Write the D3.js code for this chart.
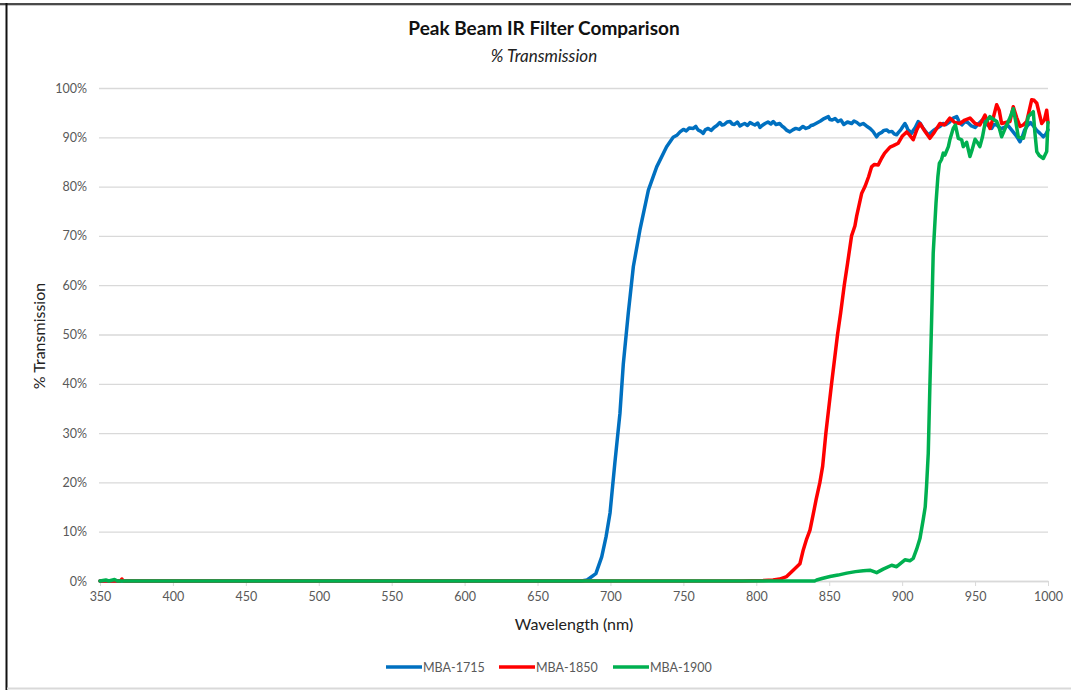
<!DOCTYPE html>
<html lang="en">
<head>
    <meta charset="UTF-8">
    <title>Peak Beam IR Filter Comparison</title>
    <script src="https://d3js.org/d3.v7.min.js"></script>
    <style>
        body {
            margin: 0;
            background: #fff;
            font-family: Lato, "Open Sans", Arial, sans-serif;
        }
        svg {
            display: block;
        }
    </style>
</head>
<body>
    <div id="container"></div>

    <script>
        // data: wavelength (nm) and transmission (%)
        const wl1715 = [350, 680, 684, 690, 694, 697, 699.7, 703, 706.5, 708.8, 712.2, 715.7, 720.2, 726, 731.7, 738.5, 743, 745.5, 747.7, 750, 752, 754, 756.8, 758.5, 760, 762, 763.6, 765, 767, 769, 771, 773, 775, 776.5, 778, 780, 782, 783.5, 785, 787, 788.8, 790.5, 792, 794, 795.7, 797.5, 799, 801, 802.5, 804, 806, 808, 810, 811.6, 813.5, 816, 817.5, 819, 821, 823, 825, 827, 829.5, 832, 834, 836, 837.5, 839, 841.5, 844, 846.5, 849.4, 850.5, 852, 854, 856, 858, 860, 862.5, 865.4, 867, 869, 871, 873.3, 875.5, 878, 880, 882.5, 884, 886, 887.5, 889.4, 891, 893, 894.5, 896.2, 897.5, 899, 900.5, 901.9, 903, 904, 905.2, 906.5, 907.8, 909, 910, 911, 912.5, 914, 916, 917.9, 920, 922, 924, 925.9, 928, 930, 932.5, 935, 937.4, 939, 941, 943, 945, 947.5, 950, 952.5, 955, 958, 961.4, 963, 965, 967.5, 970, 972.5, 975, 978, 980.8, 982.5, 984, 986, 988, 990, 992, 994.5, 996.8, 998.5, 1000];
        const t1715 = [0, 0, 0.2, 1.5, 4.9, 9, 13.8, 23.9, 34, 44, 54.3, 63.8, 71.2, 79.3, 84, 88.1, 90, 90.4, 91.1, 91.6, 91.3, 91.9, 91.8, 92.2, 91.5, 91.2, 90.8, 91.5, 91.8, 91.4, 92, 92.4, 93, 92.5, 92.6, 93.1, 93.2, 92.7, 92.6, 93.1, 92.3, 92.6, 92.8, 92.4, 93, 92.7, 92.5, 92.9, 92, 92.4, 92.8, 93.1, 92.7, 93.2, 92.6, 92.8, 92.3, 92, 91.4, 91.1, 91.5, 91.8, 91.6, 92.2, 91.8, 92, 92.4, 92.5, 92.9, 93.3, 93.8, 94.2, 93.6, 93.5, 93.8, 93.2, 93.5, 92.6, 93.1, 92.8, 93.3, 93, 92.5, 92.8, 92.3, 91.8, 91.2, 90.1, 90.7, 91, 91.4, 91.5, 91.1, 91.2, 90.7, 90.5, 91, 91.5, 92.2, 92.8, 92.2, 91.5, 91.2, 90.8, 91.5, 92, 92.6, 93.2, 92.8, 92, 91.2, 90.5, 91, 91.5, 91.9, 92.2, 92.8, 92.6, 93.1, 93.9, 94.2, 93.2, 92.5, 93.2, 93, 92.3, 92, 92.8, 93.5, 92.6, 91.8, 92.6, 92.5, 91.7, 92, 92.4, 91.5, 90.4, 89.1, 90.2, 91.5, 92.4, 93, 92.3, 91.5, 90.8, 90.1, 90.6, 91.5];

        const wl1850 = [350, 364, 365, 366, 790, 805, 811.5, 816, 820.8, 825.3, 829.9, 832.2, 834.5, 836.8, 839, 841, 843.6, 845.5, 847.7, 851.6, 855.7, 857.8, 860.3, 862.6, 865.3, 867.6, 868.8, 872.2, 874.5, 877, 879, 881, 883.6, 886, 888, 891.7, 894, 897.3, 900, 903.1, 905, 907.6, 910, 912.2, 915, 919, 922, 925.9, 929, 932.7, 936, 939.6, 943, 946.5, 950, 953.3, 956.8, 960.2, 962.5, 964.8, 966.5, 968.2, 971, 973.9, 976.2, 978.5, 980.8, 983, 985.4, 988.8, 990.5, 992.3, 995.7, 997.5, 999.1, 1000];
        const t1850 = [0, 0, 0.4, 0, 0, 0.1, 0.2, 0.4, 0.9, 2.2, 3.5, 6.3, 8.5, 10.3, 13.5, 16.5, 20, 23.3, 30, 40, 50, 54.3, 60, 64.5, 70, 72, 74, 78.6, 80, 82, 84, 84.5, 84.4, 85.8, 86.8, 88, 88.3, 88.8, 90.2, 91.1, 90.5, 89.5, 91.5, 92.8, 91.5, 89.8, 91, 92.8, 92.5, 93.9, 93, 92.8, 93.5, 93.9, 92.8, 92.5, 94.5, 91.8, 94, 96.6, 95.5, 92.8, 93, 93.2, 96.2, 94, 92.2, 92.5, 93.2, 97.6, 97.5, 96.9, 92.8, 93.5, 95.5, 93];

        const wl1900 = [350, 354, 356, 360, 362, 840, 841.4, 845, 850.5, 856, 862, 868, 873.3, 877.9, 882.5, 887, 892.8, 896.2, 901.9, 905.3, 907.6, 910, 912.2, 914.4, 915.8, 916.7, 917.9, 919, 920.2, 921.3, 923.2, 924.5, 925.5, 927, 928.2, 929.3, 931.7, 932.7, 935, 936.5, 938.5, 940.8, 941.9, 944.2, 946.5, 948, 950, 951.5, 953.3, 955, 956.8, 960.2, 962, 964.8, 966.5, 968.2, 971.6, 974, 976.2, 978, 979.6, 983.1, 985, 986.5, 989.9, 991, 992.3, 994, 996.8, 999.1, 1000];
        const t1900 = [0, 0.2, 0, 0.3, 0, 0, 0.2, 0.5, 0.9, 1.2, 1.6, 1.9, 2.1, 2.2, 1.7, 2.4, 3.2, 2.9, 4.3, 4.1, 4.6, 6.5, 8.6, 12.4, 15, 19.1, 25.9, 39.4, 52.9, 66.5, 76.6, 82, 84.7, 85.5, 86.8, 86.4, 88.1, 89.5, 91.8, 92.5, 89.8, 89.5, 88.1, 89, 86.1, 87.5, 89.6, 89, 88.1, 90, 92.8, 94.2, 93.8, 93.2, 92, 90.1, 92.5, 94, 95.8, 93, 90.1, 89.8, 92, 94.2, 95.2, 91, 87.1, 86.3, 85.7, 87.1, 93];

        const seriesNames = ['MBA-1715', 'MBA-1850', 'MBA-1900'];
        const seriesColors = ['#0070C0', '#FF0000', '#00B050'];
        const xTicks = [350, 400, 450, 500, 550, 600, 650, 700, 750, 800, 850, 900, 950, 1000];
        const yTicks = [0, 10, 20, 30, 40, 50, 60, 70, 80, 90, 100];

        const series = [
            {name: seriesNames[0], color: seriesColors[0], pts: wl1715.map((w, i) => [w, t1715[i]])},
            {name: seriesNames[1], color: seriesColors[1], pts: wl1850.map((w, i) => [w, t1850[i]])},
            {name: seriesNames[2], color: seriesColors[2], pts: wl1900.map((w, i) => [w, t1900[i]])}
        ];

        const W = 1071, H = 690;
        const svg = d3.select('#container').append('svg')
            .attr('width', W)
            .attr('height', H);

        // frame
        svg.append('line').attr('x1', 0).attr('x2', W).attr('y1', 5.3).attr('y2', 5.3)
            .attr('stroke', '#bbb').attr('stroke-width', 1);
        svg.append('line').attr('x1', 0).attr('x2', W).attr('y1', 4).attr('y2', 4)
            .attr('stroke', '#111').attr('stroke-width', 1.6);
        svg.append('line').attr('x1', 6.5).attr('x2', 6.5).attr('y1', 3).attr('y2', H)
            .attr('stroke', '#111').attr('stroke-width', 2);
        svg.append('line').attr('x1', 7).attr('x2', W).attr('y1', 688.5).attr('y2', 688.5)
            .attr('stroke', '#d9d9d9').attr('stroke-width', 2);

        const plotLeft = 100, plotRight = 1048, plotTop = 88, plotBottom = 581;

        const x = d3.scaleLinear().domain([350, 1000]).range([plotLeft, plotRight]);
        const y = d3.scaleLinear().domain([0, 100]).range([plotBottom, plotTop]);

        // gridlines + y labels
        const yAxis = d3.axisLeft(y)
            .tickValues(yTicks)
            .tickSize(-(plotRight - plotLeft + 1))
            .tickPadding(12)
            .tickFormat(d => d + '%');
        const gy = svg.append('g')
            .attr('transform', `translate(${plotLeft - 1},0)`)
            .call(yAxis);
        gy.select('.domain').remove();
        gy.selectAll('.tick line').attr('stroke', '#d9d9d9').attr('stroke-width', 1.3);
        gy.selectAll('.tick text')
            .attr('fill', '#595959')
            .style('font-size', '12.5px')
            .style('font-family', 'Lato, sans-serif');

        // x axis
        const xAxis = d3.axisBottom(x)
            .tickValues(xTicks)
            .tickSize(5)
            .tickPadding(6)
            .tickSizeOuter(0)
            .tickFormat(d3.format('d'));
        const gx = svg.append('g')
            .attr('transform', `translate(0,${plotBottom})`)
            .call(xAxis);
        gx.select('.domain').attr('stroke', '#d9d9d9').attr('stroke-width', 1.3);
        gx.selectAll('.tick line').attr('stroke', '#d9d9d9');
        gx.selectAll('.tick text')
            .attr('fill', '#595959')
            .style('font-size', '12.5px')
            .style('font-family', 'Lato, sans-serif');

        // lines (blue first, green ends on top)
        const line = d3.line()
            .x(d => x(d[0]))
            .y(d => y(d[1]));

        svg.selectAll('path.series')
            .data(series)
            .enter()
            .append('path')
            .attr('class', 'series')
            .attr('d', d => line(d.pts))
            .attr('fill', 'none')
            .attr('stroke', d => d.color)
            .attr('stroke-width', 3.5)
            .attr('stroke-linejoin', 'round')
            .attr('stroke-linecap', 'round');

        // titles
        svg.append('text')
            .attr('x', 544).attr('y', 35)
            .attr('text-anchor', 'middle')
            .style('font-size', '19px')
            .style('font-weight', 'bold')
            .attr('fill', '#111')
            .text('Peak Beam IR Filter Comparison');

        svg.append('text')
            .attr('x', 544).attr('y', 62)
            .attr('text-anchor', 'middle')
            .style('font-size', '17px')
            .style('font-style', 'italic')
            .attr('fill', '#222')
            .text('% Transmission');

        svg.append('text')
            .attr('x', (plotLeft + plotRight) / 2).attr('y', 630)
            .attr('text-anchor', 'middle')
            .style('font-size', '16px')
            .attr('fill', '#222')
            .text('Wavelength (nm)');

        svg.append('text')
            .attr('transform', 'translate(45,336) rotate(-90)')
            .attr('text-anchor', 'middle')
            .style('font-size', '16px')
            .attr('fill', '#222')
            .text('% Transmission');

        // legend
        const legendX = [386, 499, 613];
        const lg = svg.selectAll('g.legend')
            .data(series)
            .enter()
            .append('g')
            .attr('class', 'legend')
            .attr('transform', (d, i) => `translate(${legendX[i]},667)`);
        lg.append('line')
            .attr('x1', 0).attr('x2', 36)
            .attr('stroke', d => d.color)
            .attr('stroke-width', 3.5);
        lg.append('text')
            .attr('x', 37).attr('y', 4.5)
            .attr('fill', '#595959')
            .style('font-size', '12.5px')
            .text(d => d.name);
    </script>
</body>
</html>
